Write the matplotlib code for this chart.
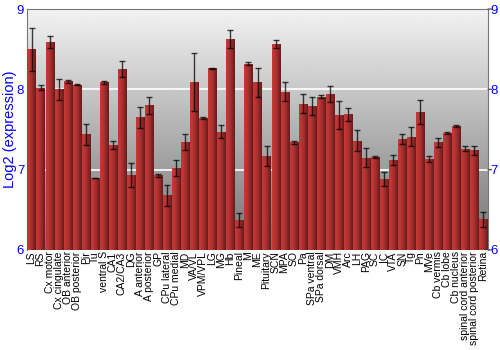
import matplotlib
matplotlib.use("Agg")
import matplotlib.pyplot as plt
import numpy as np

plt.rcParams["font.family"] = ["Liberation Sans", "DejaVu Sans"]

regions = ["LS", "RS", "Cx motor", "Cx cingulate", "OB anterior", "OB posterior",
           "Pir", "Tu", "ventral S", "CA1", "CA2/CA3", "DG", "A anterior",
           "A posterior", "GP", "CPu lateral", "CPu medial", "MD", "VA/VL",
           "VPM/VPL", "LG", "MG", "Hb", "Pineal", "M", "ME", "Pituitary", "SCN",
           "MPA", "SO", "Pa", "SPa ventral", "SPa dorsal", "DM", "VMH", "Arc",
           "LH", "PAG", "SC", "IC", "VTA", "SN", "Tg", "Pn", "MVe", "Cb vermis",
           "Cb lobe", "Cb nucleus", "spinal cord anterior", "spinal cord posterior",
           "Retina"]
expression = [8.50, 8.02, 8.59, 8.00, 8.10, 8.06, 7.44, 6.89, 8.09, 7.31,
              8.25, 6.93, 7.65, 7.80, 6.93, 6.68, 7.02, 7.35, 8.09, 7.64,
              8.26, 7.47, 8.63, 6.37, 8.32, 8.09, 7.17, 8.57, 7.97, 7.34,
              7.82, 7.79, 7.91, 7.94, 7.68, 7.69, 7.36, 7.15, 7.16, 6.88,
              7.12, 7.38, 7.41, 7.72, 7.13, 7.34, 7.46, 7.54, 7.26, 7.24,
              6.38]
errors = [0.27, 0.03, 0.07, 0.13, 0.02, 0.01, 0.13, 0.00, 0.02, 0.05,
          0.10, 0.15, 0.13, 0.11, 0.02, 0.13, 0.10, 0.10, 0.36, 0.01,
          0.01, 0.08, 0.11, 0.09, 0.02, 0.18, 0.13, 0.05, 0.12, 0.02,
          0.12, 0.11, 0.02, 0.10, 0.17, 0.08, 0.13, 0.12, 0.01, 0.09,
          0.06, 0.06, 0.12, 0.15, 0.04, 0.06, 0.01, 0.01, 0.03, 0.06,
          0.09]
yticks = [6, 7, 8, 9]

fig = plt.figure(figsize=(5, 3.5), dpi=100)
ax = fig.add_axes([0.054, 0.286, 0.922, 0.688])
x = np.arange(len(regions))
ax.set_xlim(-0.5, len(regions) - 0.5)
ax.set_ylim(6, 9)

# grey vertical gradient background
bg = np.linspace(0.45, 0.95, 256).reshape(-1, 1)
ax.imshow(bg, cmap="gray", vmin=0, vmax=1, aspect="auto", origin="lower",
          extent=(-0.5, len(regions) - 0.5, 6, 9), zorder=0)
for t in [7, 8]:
    ax.axhline(t, color="white", lw=1.2, zorder=1)

bars = ax.bar(x, [v - 6 for v in expression], bottom=6, width=0.9,
              color="#b03a3a", edgecolor="none", zorder=2)

# horizontal shading inside each bar, clipped to the bar shapes
cols = 40
phase = np.linspace(0, 1, cols)
shade = 0.80 - 0.45 * phase ** 1.6
shade[:4] = np.linspace(0.55, 0.80, 4)
row = np.tile(shade, len(regions))
red = np.zeros((1, row.size, 3))
red[0, :, 0] = row
red[0, :, 1] = row * 0.28
red[0, :, 2] = row * 0.28
for b in bars:
    im = ax.imshow(red, aspect="auto", extent=(-0.5, len(regions) - 0.5, 6, 9),
                   zorder=3, interpolation="bilinear")
    im.set_clip_path(b)

ax.errorbar(x, expression, yerr=errors, fmt="none", ecolor="black",
            elinewidth=1.0, capsize=2.2, capthick=1.0, alpha=0.75, zorder=4)

ax.set_xticks(x)
ax.set_xticklabels(regions, rotation=90, fontsize=7.5)
ax.tick_params(axis="x", length=0, pad=1)
ax.set_yticks(yticks)
ax.set_yticklabels([str(t) for t in yticks])
ax.tick_params(axis="y", labelcolor="blue", labelsize=9.5, length=0, pad=2,
               right=True, labelright=True)
ax.set_ylabel("Log2 (expression)", color="blue", fontsize=10.5)
ax.yaxis.set_label_coords(-0.022, 0.5)
for s in ["left", "right", "top"]:
    ax.spines[s].set_color("#777777")
ax.spines["bottom"].set_visible(False)
# outward ticks on the right side only
for t in yticks:
    ax.annotate("", xy=(1.0, t), xycoords=("axes fraction", "data"),
                xytext=(2.5, 0), textcoords="offset points",
                arrowprops=dict(arrowstyle="-", color="#555555", lw=1,
                                shrinkA=0, shrinkB=0))

fig.savefig("out.png", dpi=100)
